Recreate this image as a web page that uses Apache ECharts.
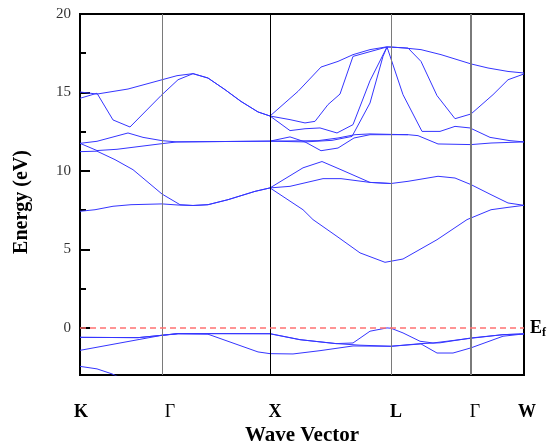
<!DOCTYPE html>
<html>
<head>
<meta charset="utf-8">
<script src="https://cdn.jsdelivr.net/npm/echarts@6/dist/echarts.min.js"></script>
<style>html,body{margin:0;padding:0;background:#fff;}#c{width:551px;height:444px;}</style>
</head>
<body>
<div id="c"></div>
<script>
// High-symmetry points along the k-path (path distance units)
const kPoints = [0, 82, 190, 311, 391, 444];
const kNames = ['K', 'Γ', 'X', 'L', 'Γ', 'W'];
const kLabelPos = [1, 90, 195, 316, 395, 444];
const yMajorTicks = [0, 5, 10, 15, 20];
const yMinorTicks = [2.5, 7.5, 12.5, 17.5];

// Bands: [k, energy (eV)]
const v0 = [[0,-2.45],[17,-2.61],[32,-2.93],[45,-3.3]];
const v1 = [[0,-0.6],[58,-0.62],[82,-0.47],[98,-0.36],[190,-0.37],[220,-0.75],[256,-1.0],[273,-0.96],[290,-0.21],[307,0],[311,-0.02],[323,-0.32],[340,-0.85],[353,-0.96],[391,-0.66],[423,-0.43],[444,-0.38]];
const v2 = [[0,-1.43],[82,-0.47],[98,-0.38],[128,-0.4],[178,-1.53],[190,-1.64],[213,-1.66],[240,-1.45],[273,-1.15],[311,-1.17],[341,-1.02],[357,-1.6],[373,-1.6],[391,-1.27],[423,-0.53],[444,-0.38]];
const v3 = [[0,-0.6],[58,-0.62],[82,-0.47],[98,-0.36],[190,-0.37],[220,-0.75],[256,-1.0],[280,-1.1],[311,-1.17],[341,-1.0],[360,-0.95],[391,-0.64],[423,-0.43],[444,-0.38]];
const c1 = [[0,7.43],[15,7.53],[33,7.75],[51,7.85],[82,7.9],[98,7.83],[113,7.8],[128,7.85],[148,8.17],[175,8.7],[190,8.92],[223,7.53],[233,6.9],[257,5.83],[280,4.78],[305,4.18],[323,4.39],[357,5.62],[387,6.9],[411,7.53],[428,7.68],[444,7.81]];
const c2 = [[0,11.23],[17,11.26],[35,10.72],[53,10.08],[82,8.53],[100,7.85],[113,7.8],[128,7.85],[148,8.17],[175,8.7],[190,8.92],[223,10.2],[242,10.6],[261,10.08],[290,9.27],[311,9.2],[328,9.34],[358,9.66],[375,9.55],[391,9.13],[411,8.49],[428,7.96],[444,7.81]];
const c3 = [[190,8.92],[210,9.02],[243,9.51],[261,9.51],[290,9.27],[311,9.2]];
const c4 = [[0,11.76],[17,11.3],[37,11.38],[82,11.74],[97,11.85],[190,11.9],[210,12.17],[225,11.85],[241,11.29],[258,11.46],[274,12.1],[290,12.31],[311,12.31],[328,12.31],[338,12.25],[358,11.72],[391,11.68],[411,11.78],[444,11.85]];
const c5 = [[0,11.76],[17,11.89],[48,12.42],[63,12.14],[82,11.93],[97,11.85],[190,11.9],[238,11.93],[258,12.1],[275,12.31],[290,12.36],[311,12.33],[328,12.31]];
const c6 = [[190,11.9],[225,11.85],[252,11.95],[272,12.2],[290,14.33],[303,17.3],[307,17.9],[323,14.86],[342,12.52],[360,12.52],[375,12.84],[390,12.74],[410,12.14],[430,11.93],[444,11.85]];
const t1 = [[0,15.03],[17,14.9],[48,15.22],[82,15.81],[97,16.07],[113,16.2],[128,15.92],[145,15.18],[161,14.43],[178,13.76],[190,13.5],[218,15.07],[241,16.62],[258,16.98],[273,17.41],[290,17.73],[306,17.9],[311,17.9],[325,17.83],[341,17.73],[361,17.41],[391,16.82],[408,16.56],[428,16.34],[444,16.24]];
const t2 = [[0,14.63],[17,14.95],[33,13.25],[50,12.8],[81,14.8],[98,15.81],[113,16.2],[128,15.92],[145,15.18],[161,14.43],[178,13.76],[190,13.5],[210,13.27],[225,13.06],[235,13.16],[248,14.23],[260,14.9],[273,17.3],[307,17.9],[328,17.83],[341,16.98],[357,14.8],[375,13.33],[391,13.63],[413,14.86],[428,15.81],[444,16.18]];
const t3 = [[190,13.5],[210,12.57],[225,12.69],[240,12.74],[257,12.42],[273,12.95],[290,15.75],[307,17.9]];

const bands = [v0, v1, v2, v3, c1, c2, c3, c4, c5, c6, t1, t2, t3];

const chart = echarts.init(document.getElementById('c'), null, {renderer: 'canvas'});
const serif = '"Liberation Serif", "DejaVu Serif", serif';
const bandColor = '#3535ff';

const series = bands.map(function (b) {
  return {
    type: 'line', data: b, showSymbol: false, symbol: 'none', silent: true, clip: true,
    xAxisIndex: 0, yAxisIndex: 0,
    lineStyle: {color: bandColor, width: 1}, z: 3
  };
});

// Vertical lines at high-symmetry points
series.push({
  type: 'line', data: [], xAxisIndex: 0, yAxisIndex: 0, silent: true,
  markLine: {
    silent: true, symbol: 'none', animation: false,
    label: {show: false},
    data: [
      {xAxis: kPoints[1], lineStyle: {color: '#7a7a7a', width: 1, type: 'solid'}},
      {xAxis: kPoints[2], lineStyle: {color: '#000', width: 1, type: 'solid'}},
      {xAxis: kPoints[3], lineStyle: {color: '#7a7a7a', width: 1, type: 'solid'}},
      {xAxis: kPoints[4], lineStyle: {color: '#7a7a7a', width: 2, type: 'solid'}}
    ]
  },
  z: 2
});
// Fermi level
series.push({
  type: 'line', data: [], xAxisIndex: 0, yAxisIndex: 0, silent: true,
  markLine: {
    silent: true, symbol: 'none', animation: false,
    lineStyle: {color: '#ff7272', width: 1.5, type: [6, 4]},
    label: {show: true, position: 'end', distance: 6,
      formatter: '{e|E}{f|f}',
      rich: {
        e: {fontFamily: serif, fontWeight: 'bold', fontSize: 18, color: '#000'},
        f: {fontFamily: serif, fontWeight: 'bold', fontSize: 12, color: '#000', padding: [10, 0, 0, 0]}
      }},
    data: [{yAxis: 0}]
  },
  z: 2
});

chart.setOption({
  animation: false,
  backgroundColor: '#fff',
  grid: {left: 80, right: 27, top: 14, bottom: 69, outerBoundsMode: 'none', containLabel: false,
    show: true, borderColor: '#000', borderWidth: 2, backgroundColor: 'transparent'},
  xAxis: [
    {
      type: 'value', min: kPoints[0], max: kPoints[kPoints.length - 1], position: 'bottom',
      axisLine: {show: true, onZero: false, lineStyle: {color: '#000', width: 2}},
      axisTick: {show: false}, axisLabel: {show: false}, splitLine: {show: false},
      name: 'Wave Vector', nameLocation: 'middle', nameGap: 50,
      nameTextStyle: {fontFamily: serif, fontWeight: 'bold', fontSize: 21, color: '#000'}
    },
    {
      type: 'value', min: kPoints[0], max: kPoints[kPoints.length - 1], position: 'bottom',
      axisLine: {show: false, onZero: false}, axisTick: {show: false}, splitLine: {show: false},
      axisLabel: {
        show: true, customValues: kLabelPos, margin: 28, showMinLabel: true, showMaxLabel: true,
        formatter: function (v) {
          const i = kLabelPos.indexOf(v);
          const n = i >= 0 ? kNames[i] : '';
          if (n === 'Γ') return '{g|Γ}';
          if (n === 'W') return '{w|W}';
          return '{b|' + n + '}';
        },
        rich: {
          b: {fontFamily: serif, fontWeight: 'bold', fontSize: 18, color: '#000'},
          w: {fontFamily: serif, fontWeight: 'bold', fontSize: 18, color: '#000', padding: [0, 0, 0, 6]},
          g: {fontFamily: serif, fontWeight: 'normal', fontSize: 18, color: '#000'}
        }
      }
    }
  ],
  yAxis: [
    {
      type: 'value', min: -3, max: 20, position: 'left',
      axisLine: {show: true, onZero: false, lineStyle: {color: '#000', width: 2}},
      axisTick: {show: true, inside: true, length: 10, customValues: yMajorTicks, lineStyle: {color: '#000', width: 2}},
      axisLabel: {show: true, customValues: yMajorTicks, margin: 9, fontFamily: serif, fontSize: 15, color: '#333'},
      splitLine: {show: false},
      name: 'Energy (eV)', nameLocation: 'middle', nameGap: 48,
      nameTextStyle: {fontFamily: serif, fontWeight: 'bold', fontSize: 20, color: '#000', padding: [0, 15, 0, 0]}
    },
    {
      type: 'value', min: -3, max: 20, position: 'left',
      axisLine: {show: false, onZero: false},
      axisTick: {show: true, inside: true, length: 6, customValues: yMinorTicks, lineStyle: {color: '#000', width: 2}},
      axisLabel: {show: false}, splitLine: {show: false}
    }
  ],
  series: series
});
</script>
</body>
</html>
